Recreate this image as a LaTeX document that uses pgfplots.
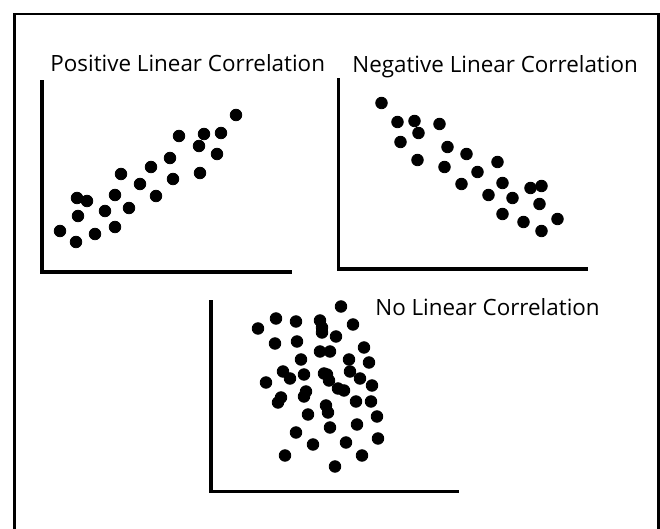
\documentclass[border=0pt]{standalone}
\usepackage{fontspec}
\setmainfont{Open Sans}
\usepackage{pgfplots}
\pgfplotsset{compat=1.18}

\pgfplotsset{
  panel/.style={
    x=0.5pt, y=0.5pt,
    anchor=south west,
    axis x line=bottom, axis y line=left,
    axis line style={-, line width=1.6pt, line cap=rect},
    xtick=\empty, ytick=\empty,
    xmin=0, ymin=0,
    enlargelimits=false,
    clip=false,
  },
  dots/.style={only marks, mark=*, mark size=2.9pt,
    mark options={draw=black, fill=black}},
}

\begin{document}
\begin{tikzpicture}
% page size and outer frame (pixel units, y down)
\begin{scope}[x=0.5pt, y=-0.5pt]
  \path[use as bounding box] (0,0) rectangle (660,529);
  \draw[line width=1.15pt] (14.5,540) -- (14.5,14) -- (658.5,14) -- (658.5,540);
  \node[anchor=base west, inner sep=0pt, font=\fontsize{11.2}{13}\selectfont] at (50,72) {Positive Linear Correlation};
  \node[anchor=base west, inner sep=0pt, font=\fontsize{11.2}{13}\selectfont] at (352,73) {Negative Linear Correlation};
  \node[anchor=base west, inner sep=0pt, font=\fontsize{11.2}{13}\selectfont] at (375,316) {No Linear Correlation};
\end{scope}

%%% positive %%%
\begin{axis}[panel, at={(21pt,-136pt)}, xmax=248, ymax=190]
\addplot[dots] coordinates {
  (18,41) (34,30) (36,56) (35,74) (45,71) (53,38) (63,61) (73,45)
  (73,77) (87,64) (79,98) (98,88) (114,76) (109,105) (131,93)
  (128,114) (137,136) (158,99) (157,126) (162,138) (175,118)
  (179,139) (194,157)
};
\end{axis}

%%% negative %%%
\begin{axis}[panel, at={(169.25pt,-134.5pt)}, xmax=248, ymax=189]
\addplot[dots] coordinates {
  (43,166) (59,147) (76,148) (80,136) (101,145) (62,127) (79,109)
  (109,122) (128,115) (106,102) (139,97) (159,107) (123,85)
  (164,86) (150,74) (174,71) (192,81) (203,83) (201,65) (164,55)
  (185,47) (203,38) (219,50)
};
\end{axis}

%%% none %%%
\begin{axis}[panel, at={(105.5pt,-245.75pt)}, xmax=246, ymax=190]
\addplot[dots] coordinates {
  (130,185) (47,163) (65,173) (85,170) (109,171) (111,164) (111,159)
  (125,155) (142,167) (64,148) (86,150) (109,140) (119,140)
  (153,144) (90,132) (138,132) (158,129) (72,120) (79,113)
  (93,117) (113,118) (116,117) (118,111) (139,120) (149,113)
  (55,109) (161,106) (127,103) (133,101) (95,100) (93,95) (70,94)
  (67,89) (145,90) (160,90) (115,86) (117,79) (97,77) (166,75)
  (119,64) (146,67) (85,59) (102,47) (135,49) (167,53) (74,36)
  (151,36) (124,25)
};
\end{axis}
\end{tikzpicture}
\end{document}
